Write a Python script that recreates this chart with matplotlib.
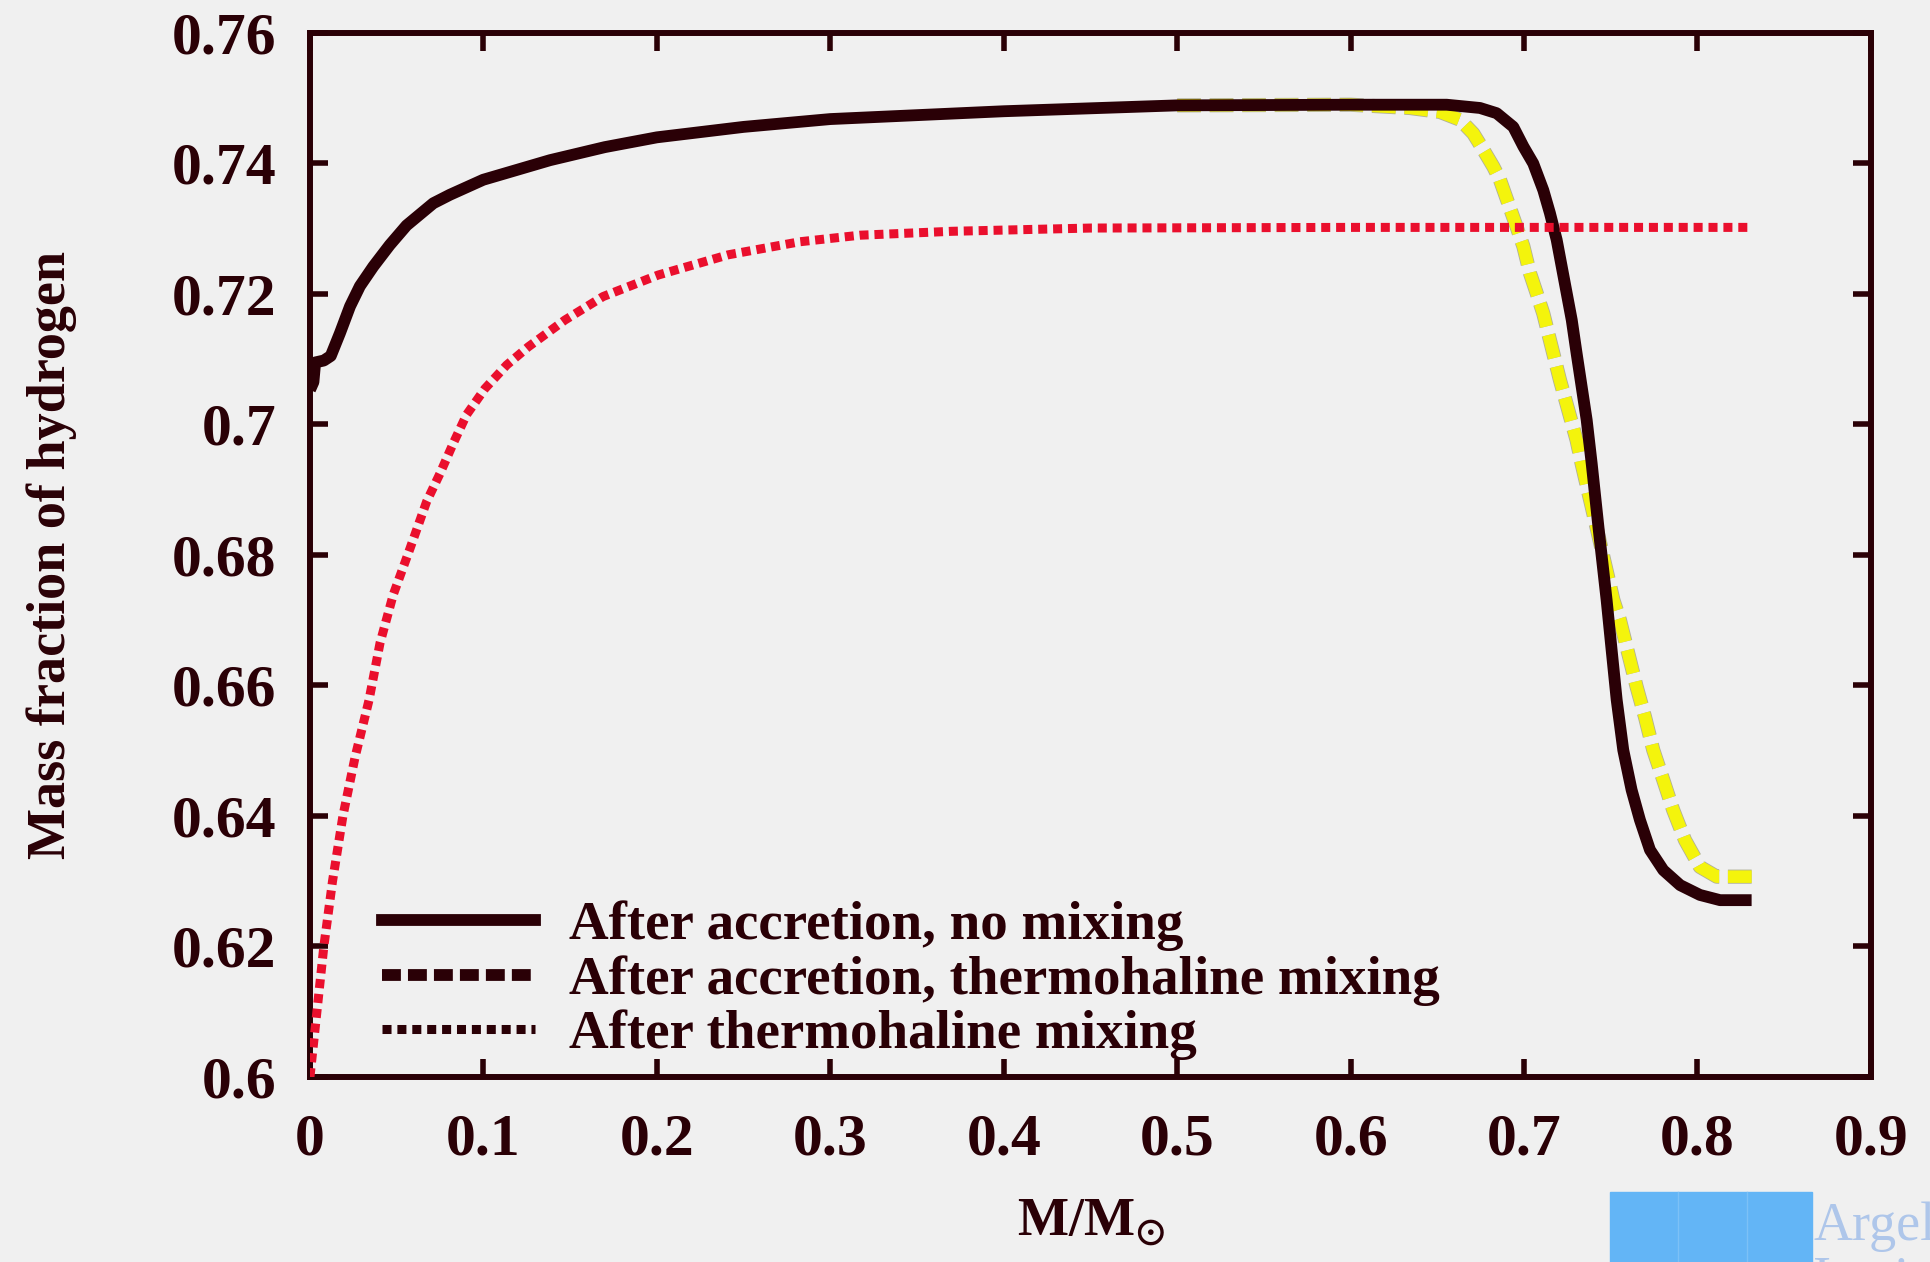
import numpy as np
import matplotlib
matplotlib.use("Agg")
import matplotlib.pyplot as plt
import matplotlib.patheffects as pe
from matplotlib.lines import Line2D
from matplotlib.patches import Rectangle
from matplotlib.ticker import FuncFormatter

plt.rcParams['font.family'] = ['Liberation Serif', 'DejaVu Serif']
plt.rcParams['font.weight'] = 'bold'
plt.rcParams['axes.labelweight'] = 'bold'
plt.rcParams['mathtext.fontset'] = 'stix'

# after accretion, no mixing
x_nomix = [0, 0.002, 0.003, 0.008, 0.012, 0.0173, 0.0231, 0.0288, 0.0365, 0.046, 0.0557,
           0.0711, 0.0807, 0.0999, 0.1384, 0.17, 0.2, 0.25, 0.3, 0.4, 0.5, 0.6,
           0.6554, 0.6746, 0.6842, 0.6938, 0.6996, 0.7053, 0.7111, 0.7149, 0.7188,
           0.7217, 0.7246, 0.7275, 0.7303, 0.7332, 0.7361, 0.739, 0.743, 0.7476,
           0.7505, 0.7534, 0.7572, 0.762, 0.7668, 0.7726, 0.7803, 0.79, 0.8014,
           0.813, 0.8312]
y_nomix = [0.7053, 0.7065, 0.7095, 0.7098, 0.7105, 0.714, 0.7181, 0.7212, 0.7242, 0.7275,
           0.7305, 0.7339, 0.7352, 0.7375, 0.7405, 0.7425, 0.744, 0.7456, 0.7468, 0.748,
           0.7489, 0.749, 0.749, 0.7485, 0.7477, 0.7456, 0.7426, 0.74, 0.7359, 0.7324,
           0.7283, 0.7242, 0.7201, 0.716, 0.7109, 0.7058, 0.7007, 0.694, 0.684, 0.6731,
           0.6654, 0.6578, 0.6501, 0.644, 0.6394, 0.6348, 0.6317, 0.6294, 0.6279,
           0.6271, 0.6271]

# after accretion, thermohaline mixing
x_acc_th = [0.5, 0.6, 0.6342, 0.6515, 0.6631, 0.6707, 0.6765, 0.6823, 0.6861, 0.6909,
            0.6957, 0.6996, 0.7034, 0.7073, 0.7111, 0.7159, 0.7207, 0.7255, 0.7303,
            0.7332, 0.742, 0.7515, 0.7553, 0.7601, 0.7649, 0.7697, 0.7745, 0.7803,
            0.786, 0.7928, 0.8014, 0.8111, 0.8322]
y_acc_th = [0.7489, 0.749, 0.7485, 0.7479, 0.7467, 0.7446, 0.7421, 0.7395, 0.7375, 0.7339,
            0.7303, 0.7273, 0.7232, 0.7201, 0.717, 0.7119, 0.7068, 0.7022, 0.6976,
            0.694, 0.684, 0.6731, 0.67, 0.6649, 0.6598, 0.6552, 0.6501, 0.6455,
            0.6409, 0.6363, 0.6322, 0.6307, 0.6307]

# after thermohaline mixing
x_th = [0, 0.004, 0.008, 0.013, 0.019, 0.026, 0.034, 0.0404, 0.048, 0.0577, 0.0673, 0.075,
        0.0826, 0.0903, 0.1009, 0.1134, 0.1259, 0.147, 0.169, 0.2008, 0.2412, 0.2825, 0.317,
        0.37, 0.45, 0.6, 0.831]
y_th = [0.6, 0.61, 0.62, 0.63, 0.64, 0.649, 0.6577, 0.6665, 0.6739, 0.681, 0.6882, 0.6925,
        0.6971, 0.7015, 0.7055, 0.7091, 0.7119, 0.716, 0.7196, 0.7229, 0.726, 0.728, 0.729,
        0.7296, 0.7301, 0.7302, 0.7302]

labels = ["After accretion, no mixing",
          "After accretion, thermohaline mixing",
          "After thermohaline mixing"]

dark = '#2a0006'
red = '#ea0f2d'
yellow = '#f4f40c'
bg = '#f0f0f0'

fig = plt.figure(figsize=(19.3, 12.62), dpi=100, facecolor=bg)
ax = fig.add_axes([0.1606, 0.1466, 0.8088, 0.8273], facecolor=bg)

ax.plot(x_acc_th, y_acc_th, color=yellow, lw=9, dashes=(1.9, 0.7), zorder=2,
        path_effects=[pe.Stroke(linewidth=10.2, foreground='#b0b098'), pe.Normal()])
ax.plot(x_nomix, y_nomix, color=dark, lw=8.5, zorder=3, solid_capstyle='butt',
        solid_joinstyle='round')
ax.plot(x_th, y_th, color=red, lw=6.5, dashes=(1.0, 0.65), zorder=4)

ax.set_xlim(0, 0.9)
ax.set_ylim(0.6, 0.76)
ax.set_xticks(np.arange(0, 0.91, 0.1))
ax.set_yticks(np.arange(0.6, 0.761, 0.02))
fmt = FuncFormatter(lambda v, p: '%g' % round(v, 3))
ax.xaxis.set_major_formatter(fmt)
ax.yaxis.set_major_formatter(fmt)
ax.tick_params(direction='in', length=13, width=4, color=dark, labelcolor=dark,
               labelsize=43, top=True, right=True)
ax.tick_params(axis='x', pad=26)
ax.tick_params(axis='y', pad=24)
for s in ax.spines.values():
    s.set_linewidth(4.3)
    s.set_color(dark)

ax.set_ylabel("Mass fraction of hydrogen", fontsize=39, color=dark, labelpad=68)
ax.set_xlabel(r"M/M$_{\odot}$", fontsize=39, color=dark, labelpad=22)

handles = [Line2D([], [], color=dark, lw=8.5),
           Line2D([], [], color=dark, lw=8.5, dashes=(1.6, 0.6)),
           Line2D([], [], color=dark, lw=6.5, dashes=(1.0, 0.65))]
ax.legend(handles, labels, loc='lower left', bbox_to_anchor=(0.032, -0.005),
          frameon=False, fontsize=39.5, handlelength=2.8, handletextpad=0.62,
          labelspacing=0.07, labelcolor=dark, borderaxespad=0)

# logo in lower right corner
fig.patches.append(Rectangle((1610 / 1930, 0), 202 / 1930, 70 / 1262,
                             transform=fig.transFigure, color='#63b5f6', zorder=0))
for lx in (1678, 1747):
    fig.lines.append(Line2D([lx / 1930, lx / 1930], [0, 70 / 1262],
                            transform=fig.transFigure, color='#7cc1f7', lw=1))
fig.text(1813 / 1930, 1 - 1240 / 1262, "Argelander", fontsize=39, color='#aec6ea',
         fontweight='normal')
fig.text(1813 / 1930, 1 - 1293 / 1262, "Institut", fontsize=39, color='#aec6ea',
         fontweight='normal')

fig.savefig("out.png", dpi=100, facecolor=bg)
